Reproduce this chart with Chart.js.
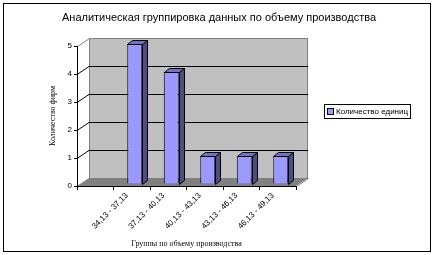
<!DOCTYPE html>
<html><head><meta charset="utf-8">
<script src="https://cdn.jsdelivr.net/npm/chart.js@4"></script>
<style>html,body{margin:0;padding:0;background:#fff}</style>
</head><body>
<canvas id="c" width="437" height="255" style="display:block;width:437px;height:255px"></canvas>
<script>
const titleText = 'Аналитическая группировка данных по объему производства';
const categories = ['34,13 - 37,13', '37,13 - 40,13', '40,13 - 43,13', '43,13 - 46,13', '46,13 - 49,13'];
const seriesName = 'Количество единиц';
const counts = [5, 4, 1, 1, 1];
const yMin = 0, yMax = 5, yStep = 1;
const xTitle = 'Группы по объему производства';
const yTitle = 'Количество фирм';

// An empty leading slot on the category axis, as in the original sheet
const labels = [''].concat(categories);
const values = [null].concat(counts);

const WALL_DX = 12, WALL_DY = 8;   // depth of the 3D box
const BAR_DX = 5, BAR_DY = 4;      // depth of each column
const BAR_SHIFT_X = 3, BAR_SHIFT_Y = 2;

const scene = {
  id: 'scene',
  beforeDraw(chart) {
    const ctx = chart.ctx, a = chart.chartArea, y = chart.scales.y;
    ctx.save();
    ctx.fillStyle = '#fff';
    ctx.fillRect(0, 0, chart.width, chart.height);
    const L = Math.round(a.left), R = Math.round(a.right);
    const T = Math.round(y.getPixelForValue(yMax)), B = Math.round(y.getPixelForValue(yMin));
    // back wall
    ctx.fillStyle = '#c0c0c0';
    ctx.fillRect(L + WALL_DX, T - WALL_DY, R - L, B - T);
    // floor
    ctx.fillStyle = '#808080';
    ctx.beginPath();
    ctx.moveTo(L, B); ctx.lineTo(R, B); ctx.lineTo(R + WALL_DX, B - WALL_DY); ctx.lineTo(L + WALL_DX, B - WALL_DY);
    ctx.closePath(); ctx.fill();
    // wall outlines
    ctx.strokeStyle = '#808080'; ctx.lineWidth = 1;
    ctx.strokeRect(L + WALL_DX + 0.5, T - WALL_DY + 0.5, R - L - 1, B - T);
    ctx.beginPath();
    ctx.moveTo(L + 0.5, T + 0.5); ctx.lineTo(L + WALL_DX + 0.5, T - WALL_DY + 0.5);
    ctx.moveTo(R + 0.5, B + 0.5); ctx.lineTo(R + WALL_DX + 0.5, B - WALL_DY + 0.5);
    ctx.stroke();
    // gridlines on wall
    ctx.strokeStyle = '#000';
    ctx.beginPath();
    for (let v = yMin + yStep; v < yMax; v += yStep) {
      const py = Math.round(y.getPixelForValue(v)) + 0.5;
      ctx.moveTo(L, py); ctx.lineTo(L + WALL_DX, py - WALL_DY);
      ctx.lineTo(R + WALL_DX, py - WALL_DY);
    }
    ctx.stroke();
    // title
    ctx.fillStyle = '#000';
    ctx.font = '11px "Liberation Sans", Arial, sans-serif';
    ctx.textAlign = 'center'; ctx.textBaseline = 'middle';
    ctx.fillText(titleText, 219, 18);
    ctx.restore();
  },
  beforeDatasetsDraw(chart) {
    chart.ctx.save();
    chart.ctx.translate(BAR_SHIFT_X, -BAR_SHIFT_Y);
  },
  afterDatasetsDraw(chart) {
    const ctx = chart.ctx;
    const meta = chart.getDatasetMeta(0);
    ctx.lineWidth = 1; ctx.strokeStyle = '#000';
    meta.data.forEach((bar, i) => {
      if (values[i] == null) return;
      const p = bar.getProps(['x', 'y', 'base', 'width'], true);
      const l = Math.round(p.x - p.width / 2) + 0.5, r = Math.round(p.x + p.width / 2) + 0.5;
      const t = Math.round(p.y) + 0.5, b = Math.round(p.base) + 0.5;
      ctx.fillStyle = '#4d4d85';
      ctx.beginPath();
      ctx.moveTo(r, t); ctx.lineTo(r + BAR_DX, t - BAR_DY); ctx.lineTo(r + BAR_DX, b - BAR_DY); ctx.lineTo(r, b);
      ctx.closePath(); ctx.fill(); ctx.stroke();
      ctx.fillStyle = '#7272c4';
      ctx.beginPath();
      ctx.moveTo(l, t); ctx.lineTo(l + BAR_DX, t - BAR_DY); ctx.lineTo(r + BAR_DX, t - BAR_DY); ctx.lineTo(r, t);
      ctx.closePath(); ctx.fill(); ctx.stroke();
    });
    ctx.restore();
  },
  afterDraw(chart) {
    const ctx = chart.ctx;
    ctx.save();
    // legend
    const lx = 324, ly = 104, lw = 86, lh = 14;
    ctx.fillStyle = '#fff'; ctx.fillRect(lx, ly, lw, lh);
    ctx.strokeStyle = '#000'; ctx.lineWidth = 1;
    ctx.strokeRect(lx + 0.5, ly + 0.5, lw, lh);
    ctx.fillStyle = '#9999ff';
    ctx.fillRect(lx + 4, ly + 5, 5, 5);
    ctx.strokeRect(lx + 3.5, ly + 4.5, 6, 6);
    ctx.fillStyle = '#000';
    ctx.font = '8px "Liberation Sans", Arial, sans-serif';
    ctx.textBaseline = 'middle';
    ctx.fillText(chart.data.datasets[0].label, lx + 12, ly + lh / 2 + 1);
    // outer frame
    ctx.strokeRect(3.5, 3.5, 427, 248);
    ctx.restore();
  }
};

new Chart(document.getElementById('c'), {
  type: 'bar',
  data: {
    labels: labels,
    datasets: [{
      label: seriesName,
      data: values,
      backgroundColor: '#9999ff',
      borderColor: '#000',
      borderWidth: 1,
      barPercentage: 0.41,
      categoryPercentage: 1
    }]
  },
  options: {
    responsive: false,
    animation: false,
    devicePixelRatio: 1,
    layout: { padding: { left: 0, top: 46, right: 141, bottom: 0 } },
    plugins: {
      legend: { display: false },
      tooltip: { enabled: false },
      title: { display: false }
    },
    scales: {
      x: {
        offset: true,
        grid: { display: true, drawOnChartArea: false, drawTicks: true, tickLength: 4, color: '#000', offset: true },
        border: { display: true, color: '#000' },
        ticks: {
          autoSkip: false, minRotation: 45, maxRotation: 45, padding: 1, labelOffset: -5, color: '#000',
          font: { family: '"Liberation Sans", Arial, sans-serif', size: 8 }
        },
        title: {
          display: true, text: xTitle, color: '#000',
          font: { family: '"Liberation Serif", "Times New Roman", serif', size: 8 },
          padding: { top: 0, bottom: 6 }
        },
        afterFit(s) { s.height = 69; }
      },
      y: {
        min: yMin, max: yMax,
        grid: { display: true, drawOnChartArea: false, drawTicks: true, tickLength: 3, color: '#000' },
        border: { display: true, color: '#000' },
        ticks: {
          stepSize: yStep, padding: 2, color: '#000',
          font: { family: '"Liberation Sans", Arial, sans-serif', size: 8 }
        },
        title: {
          display: true, text: yTitle, color: '#000',
          font: { family: '"Liberation Serif", "Times New Roman", serif', size: 8 },
          padding: { top: 48, bottom: 0 }
        },
        afterFit(s) { s.width = 77; }
      }
    }
  },
  plugins: [scene]
});
</script>
</body></html>
